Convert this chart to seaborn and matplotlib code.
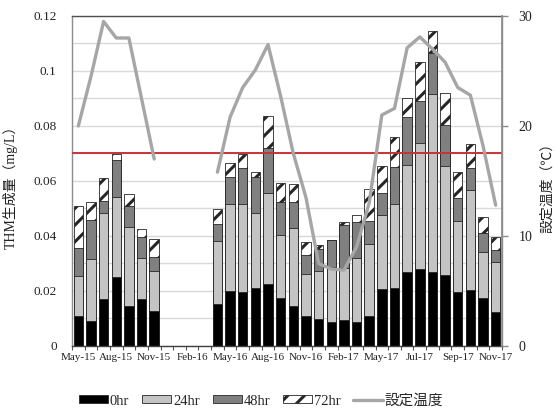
import numpy as np
import pandas as pd
import matplotlib
matplotlib.use("Agg")
import matplotlib.pyplot as plt
import seaborn as sns
from matplotlib.patches import Patch
from matplotlib.lines import Line2D

# Sampling dates (category axis, one slot per sample)
months = [
    "May-15", "Jun-15", "Jul-15", "Aug-15", "Sep-15", "Oct-15", "Nov-15",
    "Dec-15", "Jan-16", "Feb-16", "Mar-16", "Apr-16", "May-16", "Jun-16",
    "Jul-16", "Aug-16", "Sep-16", "Oct-16", "Nov-16", "Dec-16", "Jan-17",
    "Feb-17", "Mar-17", "Apr-17", "May-17", "Jun-17", "Jun-17", "Jul-17",
    "Aug-17", "Aug-17", "Sep-17", "Oct-17", "Oct-17", "Nov-17",
]

# THM formed in each incubation interval (mg/L); NaN = no sample
nan = np.nan
thm_0hr = [0.0108, 0.0090, 0.0170, 0.0250, 0.0147, 0.0170, 0.0128,
           nan, nan, nan, nan,
           0.0153, 0.0201, 0.0196, 0.0210, 0.0225, 0.0173, 0.0147, 0.0110,
           0.0097, 0.0089, 0.0095, 0.0088, 0.0109, 0.0206, 0.0210, 0.0270,
           0.0279, 0.0270, 0.0258, 0.0195, 0.0204, 0.0173, 0.0125]
thm_24hr = [0.0145, 0.0228, 0.0313, 0.0293, 0.0285, 0.0149, 0.0145,
            nan, nan, nan, nan,
            0.0230, 0.0315, 0.0320, 0.0275, 0.0330, 0.0231, 0.0281, 0.0153,
            0.0175, 0.0199, 0.0190, 0.0231, 0.0263, 0.0270, 0.0306, 0.0388,
            0.0458, 0.0647, 0.0397, 0.0261, 0.0363, 0.0170, 0.0179]
thm_48hr = [0.0102, 0.0140, 0.0044, 0.0133, 0.0077, 0.0079, 0.0052,
            nan, nan, nan, nan,
            0.0061, 0.0100, 0.0130, 0.0131, 0.0164, 0.0121, 0.0097, 0.0068,
            0.0080, 0.0097, 0.0155, 0.0131, 0.0083, 0.0082, 0.0136, 0.0176,
            0.0153, 0.0149, 0.0149, 0.0081, 0.0079, 0.0069, 0.0045]
thm_72hr = [0.0155, 0.0064, 0.0083, 0.0022, 0.0043, 0.0026, 0.0065,
            nan, nan, nan, nan,
            0.0054, 0.0051, 0.0051, 0.0018, 0.0118, 0.0067, 0.0063, 0.0046,
            0.0015, 0.0000, 0.0012, 0.0026, 0.0115, 0.0097, 0.0109, 0.0067,
            0.0143, 0.0078, 0.0117, 0.0095, 0.0087, 0.0058, 0.0048]

# Set temperature (deg C)
set_temp = [20.0, 24.5, 29.5, 28.0, 28.0, 22.5, 17.0,
            nan, nan, nan, nan,
            15.8, 20.8, 23.5, 25.1, 27.4, 22.7, 17.5, 13.5,
            7.5, 7.0, 6.9, 9.0, 13.0, 21.0, 21.6, 27.1,
            28.1, 27.0, 25.8, 23.5, 22.8, 18.2, 12.8]

series_labels = ["0hr", "24hr", "48hr", "72hr"]
temp_label = "設定温度"

sns.set_theme(style="white")
plt.rcParams["font.family"] = ["Liberation Serif", "Noto Sans CJK JP", "DejaVu Sans"]
plt.rcParams["hatch.linewidth"] = 2.2
plt.rcParams["hatch.color"] = "black"

pos = np.arange(len(months))
df = pd.DataFrame({"pos": pos, "h0": thm_0hr, "h24": thm_24hr,
                   "h48": thm_48hr, "h72": thm_72hr, "temp": set_temp})
df["c0"] = df["h0"]
df["c24"] = df["c0"] + df["h24"]
df["c48"] = df["c24"] + df["h48"]
df["c72"] = df["c48"] + df["h72"]
bars = df.dropna(subset=["h0"])

fig = plt.figure(figsize=(5.55, 4.08), dpi=100)
ax = fig.add_axes([0.1297, 0.152, 0.7748, 0.8088])

edge = "#262626"
styles = [
    ("c72", dict(color="white", hatch="//")),
    ("c48", dict(color="#808080")),
    ("c24", dict(color="#c4c4c4")),
    ("c0", dict(color="black")),
]
for col, kw in styles:
    sns.barplot(data=bars, x="pos", y=col, order=list(pos), width=0.75,
                errorbar=None, edgecolor=edge, linewidth=0.6, ax=ax,
                zorder=2, **kw)

ax.axhline(0.07, color="#c8323a", lw=1.4, zorder=5)

ax.set_ylim(0, 0.12)
ax.set_yticks([0, 0.02, 0.04, 0.06, 0.08, 0.10, 0.12])
ax.set_yticklabels(["0", "0.02", "0.04", "0.06", "0.08", "0.1", "0.12"])
ax.set_yticks(np.arange(0.01, 0.12, 0.02), minor=True)
ax.yaxis.grid(True, which="both", color="#d9d9d9", lw=1.0)
ax.set_axisbelow(True)
ax.tick_params(axis="y", which="both", length=0, pad=11, labelsize=9.5,
               labelcolor="#222222")

ax.set_xlim(-0.5, len(months) - 0.5)
ax.set_xticks(pos[::3])
ax.set_xticklabels([months[i] for i in pos[::3]])
ax.set_xticks(np.arange(-0.5, len(months), 1.0), minor=True)
ax.tick_params(axis="x", which="major", length=0, pad=5, labelsize=8,
               labelcolor="#222222")
ax.tick_params(axis="x", which="minor", length=3, width=0.8, color="#555555",
               bottom=True)
ax.set_xlabel("")
ax.set_ylabel("THM生成量（mg/L）", fontsize=10, color="#222222")
ax.yaxis.set_label_coords(-0.126, 0.49)

for side, c in [("left", "#8c8c8c"), ("top", "#505050"),
                ("bottom", "#404040"), ("right", "#8c8c8c")]:
    ax.spines[side].set_color(c)
    ax.spines[side].set_linewidth(1.0)

# Set temperature on the secondary axis
ax2 = ax.twinx()
line_kw = dict(color="#a6a6a6", lw=2.4)
for seg in [df.iloc[0:7], df.iloc[11:]]:
    sns.lineplot(data=seg, x="pos", y="temp", ax=ax2, **line_kw)
ax2.set_ylim(0, 30)
ax2.set_yticks([0, 10, 20, 30])
ax2.tick_params(axis="y", length=4, width=1.0, color="#8c8c8c", pad=8,
                labelsize=10, labelcolor="#222222", right=True)
ax2.set_xlabel("")
ax2.set_ylabel("設定温度（℃）", fontsize=10, color="#222222")
ax2.yaxis.set_label_coords(1.091, 0.49)
for side in ["left", "top", "bottom"]:
    ax2.spines[side].set_visible(False)
ax2.spines["right"].set_color("#8c8c8c")
ax.set_xlim(-0.5, len(months) - 0.5)

handles = [
    Patch(facecolor="black", edgecolor=edge, lw=0.6),
    Patch(facecolor="#c4c4c4", edgecolor=edge, lw=0.6),
    Patch(facecolor="#808080", edgecolor=edge, lw=0.6),
    Patch(facecolor="white", edgecolor=edge, lw=0.6, hatch="//"),
    Line2D([], [], **line_kw),
]
fig.legend(handles, series_labels + [temp_label], loc="center",
           bbox_to_anchor=(0.47, 0.018), ncol=5, frameon=False, fontsize=10.5,
           handlelength=2.0, handleheight=0.45, handletextpad=0.1,
           columnspacing=0.9, borderaxespad=0)

fig.savefig("out.png", dpi=100)
